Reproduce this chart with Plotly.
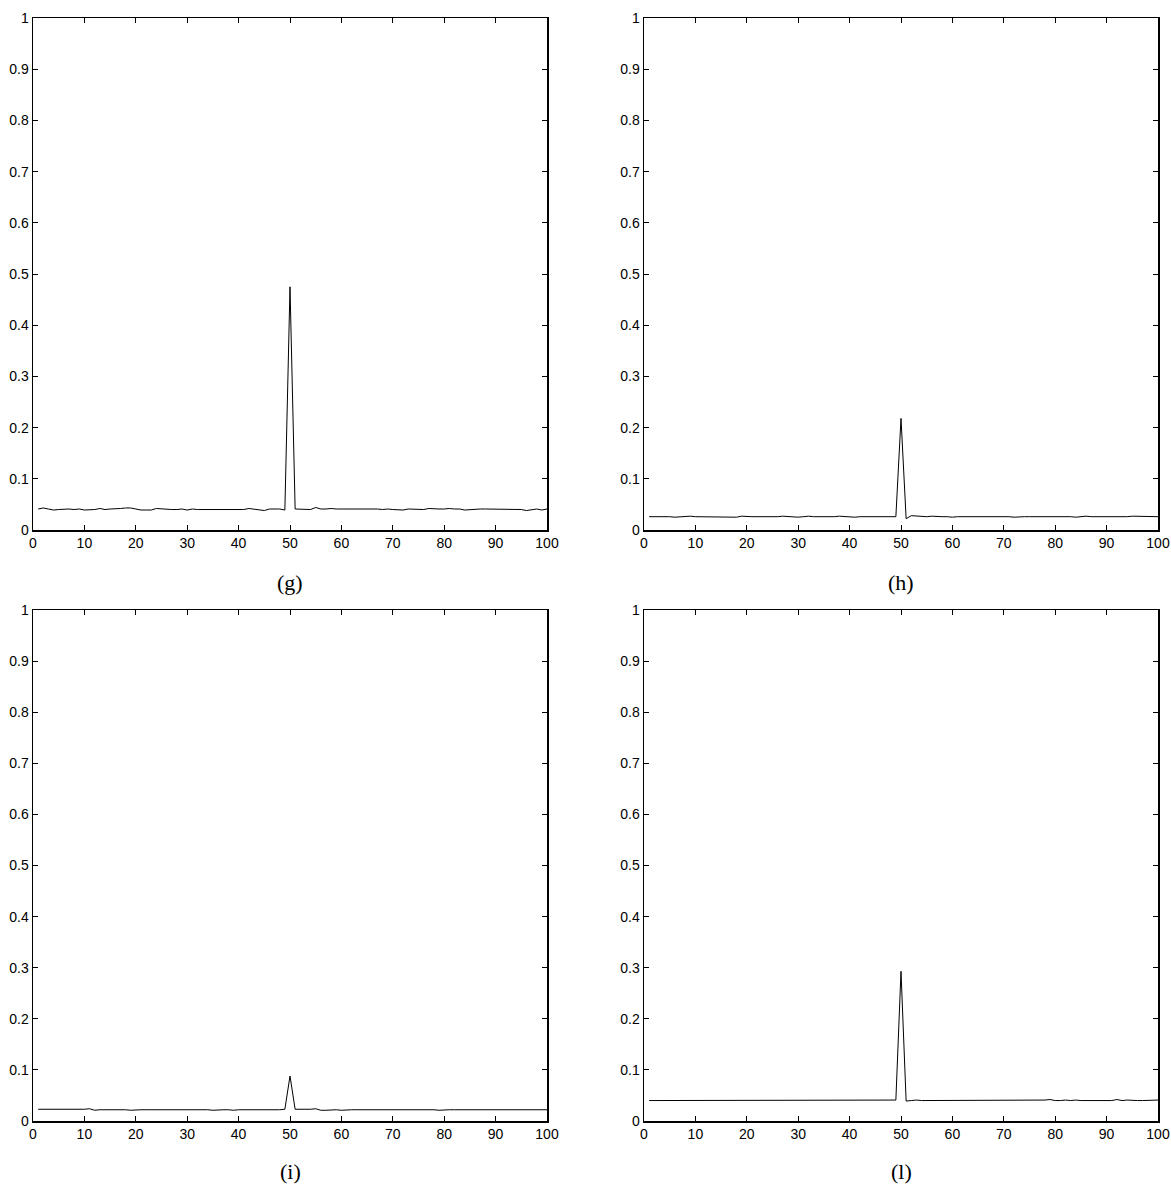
import plotly.graph_objects as go

x_vals = list(range(1, 101))

g_vals = [
    0.041, 0.043, 0.041, 0.039, 0.040, 0.041, 0.041, 0.040, 0.041, 0.039,
    0.039, 0.040, 0.042, 0.040, 0.041, 0.041, 0.042, 0.043, 0.043, 0.041,
    0.039, 0.039, 0.039, 0.042, 0.041, 0.040, 0.040, 0.040, 0.041, 0.039,
    0.041, 0.040, 0.040, 0.041, 0.040, 0.041, 0.040, 0.040, 0.041, 0.041,
    0.040, 0.042, 0.041, 0.039, 0.038, 0.041, 0.041, 0.041, 0.039, 0.475,
    0.041, 0.041, 0.040, 0.040, 0.044, 0.041, 0.041, 0.042, 0.041, 0.041,
    0.041, 0.042, 0.041, 0.041, 0.041, 0.041, 0.041, 0.040, 0.041, 0.040,
    0.040, 0.039, 0.041, 0.041, 0.041, 0.040, 0.042, 0.041, 0.041, 0.041,
    0.042, 0.041, 0.041, 0.039, 0.040, 0.040, 0.041, 0.041, 0.041, 0.040,
    0.041, 0.041, 0.041, 0.041, 0.040, 0.038, 0.040, 0.041, 0.039, 0.041,
]

h_vals = [
    0.026, 0.026, 0.027, 0.026, 0.026, 0.025, 0.026, 0.027, 0.027, 0.026,
    0.026, 0.026, 0.026, 0.025, 0.026, 0.026, 0.026, 0.025, 0.027, 0.026,
    0.026, 0.026, 0.026, 0.026, 0.025, 0.026, 0.027, 0.026, 0.026, 0.025,
    0.026, 0.027, 0.026, 0.026, 0.025, 0.026, 0.026, 0.027, 0.026, 0.026,
    0.025, 0.026, 0.026, 0.025, 0.026, 0.026, 0.026, 0.026, 0.026, 0.218,
    0.022, 0.028, 0.027, 0.027, 0.026, 0.027, 0.026, 0.026, 0.026, 0.025,
    0.026, 0.026, 0.027, 0.026, 0.026, 0.026, 0.027, 0.027, 0.026, 0.026,
    0.026, 0.025, 0.026, 0.026, 0.026, 0.026, 0.026, 0.027, 0.026, 0.026,
    0.026, 0.027, 0.026, 0.025, 0.026, 0.027, 0.026, 0.026, 0.025, 0.026,
    0.026, 0.026, 0.026, 0.026, 0.027, 0.027, 0.026, 0.026, 0.026, 0.026,
]

i_vals = [
    0.023, 0.023, 0.023, 0.023, 0.023, 0.022, 0.023, 0.023, 0.023, 0.023,
    0.024, 0.021, 0.022, 0.022, 0.022, 0.023, 0.022, 0.022, 0.021, 0.022,
    0.022, 0.022, 0.022, 0.023, 0.022, 0.022, 0.022, 0.022, 0.023, 0.022,
    0.022, 0.022, 0.023, 0.022, 0.021, 0.022, 0.022, 0.022, 0.021, 0.022,
    0.022, 0.021, 0.022, 0.022, 0.021, 0.022, 0.022, 0.022, 0.023, 0.088,
    0.023, 0.023, 0.022, 0.023, 0.024, 0.021, 0.021, 0.022, 0.022, 0.021,
    0.022, 0.022, 0.022, 0.022, 0.022, 0.022, 0.022, 0.022, 0.023, 0.022,
    0.022, 0.022, 0.022, 0.022, 0.022, 0.022, 0.022, 0.022, 0.021, 0.022,
    0.022, 0.022, 0.022, 0.022, 0.022, 0.022, 0.022, 0.022, 0.022, 0.022,
    0.022, 0.022, 0.022, 0.022, 0.022, 0.022, 0.022, 0.022, 0.022, 0.022,
]

l_vals = [
    0.040, 0.040, 0.040, 0.041, 0.040, 0.040, 0.041, 0.041, 0.040, 0.040,
    0.041, 0.041, 0.040, 0.040, 0.040, 0.041, 0.040, 0.041, 0.040, 0.040,
    0.041, 0.040, 0.040, 0.041, 0.040, 0.040, 0.041, 0.040, 0.041, 0.040,
    0.040, 0.041, 0.040, 0.041, 0.040, 0.040, 0.040, 0.041, 0.040, 0.040,
    0.040, 0.041, 0.040, 0.040, 0.041, 0.040, 0.041, 0.040, 0.041, 0.293,
    0.039, 0.040, 0.041, 0.040, 0.040, 0.041, 0.040, 0.040, 0.040, 0.041,
    0.041, 0.040, 0.040, 0.041, 0.040, 0.040, 0.041, 0.040, 0.040, 0.040,
    0.041, 0.040, 0.040, 0.040, 0.041, 0.041, 0.040, 0.041, 0.042, 0.040,
    0.040, 0.041, 0.040, 0.041, 0.040, 0.040, 0.040, 0.041, 0.040, 0.040,
    0.040, 0.042, 0.040, 0.041, 0.040, 0.040, 0.040, 0.040, 0.041, 0.041,
]

panel_labels = ["(g)", "(h)", "(i)", "(l)"]
series = [g_vals, h_vals, i_vals, l_vals]

x_ticks = [0, 10, 20, 30, 40, 50, 60, 70, 80, 90, 100]
y_ticks = [0, 0.1, 0.2, 0.3, 0.4, 0.5, 0.6, 0.7, 0.8, 0.9, 1]
y_tick_text = ["0", "0.1", "0.2", "0.3", "0.4", "0.5", "0.6", "0.7", "0.8", "0.9", "1"]

# full page size; body margin is removed in post_script so the figure fills the page
W, H = 1171, 1191


def px_x(p):
    return p / W


def px_y(p):
    return 1 - p / H


x_domains = [[px_x(33), px_x(547)], [px_x(644), px_x(1158)]]
y_domains = [[px_y(530), px_y(18)], [px_y(1121), px_y(610)]]
label_y = [582, 1171]

fig = go.Figure()
layout = dict(
    width=W, height=H,
    margin=dict(l=0, r=0, t=0, b=0, autoexpand=False),
    paper_bgcolor="white", plot_bgcolor="white",
    showlegend=False,
    font=dict(family="Liberation Sans, Arial, sans-serif", size=14, color="black"),
)
annotations = []
for k, vals in enumerate(series):
    row, col = divmod(k, 2)
    idx = "" if k == 0 else str(k + 1)
    xa, ya = "x" + idx, "y" + idx
    fig.add_trace(go.Scatter(x=x_vals, y=vals, mode="lines",
                             line=dict(color="black", width=1),
                             xaxis=xa, yaxis=ya, hoverinfo="skip"))
    axis_common = dict(showline=True, linecolor="black", linewidth=1.5,
                       mirror="ticks", ticks="inside", ticklen=5,
                       tickcolor="black", tickwidth=1, showgrid=False,
                       zeroline=False, automargin=False,
                       tickfont=dict(size=14, color="black"))
    layout["xaxis" + idx] = dict(domain=x_domains[col], range=[0, 100],
                                 tickvals=x_ticks, anchor=ya, **axis_common)
    layout["yaxis" + idx] = dict(domain=y_domains[row], range=[0, 1],
                                 tickvals=y_ticks, ticktext=y_tick_text,
                                 anchor=xa, **axis_common)
    cx = (x_domains[col][0] + x_domains[col][1]) / 2
    cy = px_y(label_y[row])
    annotations.append(dict(text=panel_labels[k], x=cx, y=cy, xref="paper", yref="paper",
                            showarrow=False, xanchor="center", yanchor="middle",
                            font=dict(family="Liberation Serif, Times New Roman, serif",
                                      size=22, color="black")))
layout["annotations"] = annotations
fig.update_layout(**layout)
fig.write_html(
    "out.html",
    config={"displayModeBar": False, "staticPlot": True},
    post_script="document.body.style.margin='0';document.body.style.overflow='hidden';",
)
